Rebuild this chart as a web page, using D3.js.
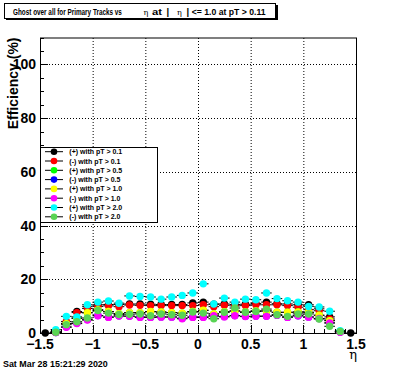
<!DOCTYPE html>
<html><head><meta charset="utf-8">
<script src="https://cdn.jsdelivr.net/npm/d3@7"></script>
<style>html,body{margin:0;padding:0;background:#fff;}svg{display:block;}</style>
</head><body>
<script>
// ---------------- data ----------------
const etaBins = [-1.45,-1.35,-1.25,-1.15,-1.05,-0.95,-0.85,-0.75,-0.65,-0.55,-0.45,-0.35,-0.25,-0.15,-0.05,
                 0.05,0.15,0.25,0.35,0.45,0.55,0.65,0.75,0.85,0.95,1.05,1.15,1.25,1.35,1.45];
const binHalfWidth = 0.05;
const seriesNames = ["(+) with pT > 0.1","(-) with pT > 0.1","(+) with pT > 0.5","(-) with pT > 0.5",
                     "(+) with pT > 1.0","(-) with pT > 1.0","(+) with pT > 2.0","(-) with pT > 2.0"];
const seriesColors = ["#000000","#ff0000","#00ff00","#0000ff","#ffff00","#ff00ff","#00ffff","#59d454"];
const posPt01 = [0,0.3,3.6,8.0,9.8,10.5,10.6,10.6,10.8,10.8,10.7,10.6,10.6,10.6,11.2,11.5,10.7,10.8,10.6,10.7,11.0,11.5,10.9,10.8,10.5,10.5,9.0,6.0,0.5,0];
const negPt01 = [null,0.3,4.3,7.6,9.1,9.9,10.1,9.8,10.4,10.3,10.2,10.2,10.2,10.2,10.2,10.5,9.8,10.3,10.1,10.2,10.5,10.5,10.5,10.2,9.6,8.7,8.3,5.2,0.5,null];
const posPt05 = [null,0.3,3.5,5.5,7.5,8.6,8.0,7.2,7.6,7.6,7.9,7.8,7.6,7.4,8.0,8.4,7.1,7.9,8.2,7.8,8.2,8.2,7.7,7.7,7.8,7.7,6.6,4.6,0.5,null];
const negPt05 = [null,0.2,2.3,3.7,5.0,6.5,6.0,6.4,6.3,6.0,5.9,6.0,6.0,5.5,6.0,6.0,6.3,6.1,6.5,6.2,6.3,6.3,6.6,5.9,6.4,6.0,5.4,3.8,0.4,null];
const posPt10 = [null,0.3,3.5,5.5,7.6,8.6,8.0,7.2,7.6,7.6,8.0,7.8,7.6,7.4,8.0,8.5,7.1,7.9,8.2,7.8,8.2,8.2,7.7,7.7,7.8,7.7,6.6,4.6,0.5,null];
const negPt10 = [null,0.2,2.1,3.5,4.8,6.4,5.8,6.3,6.2,5.8,5.8,5.9,5.9,5.3,5.8,5.8,6.4,6.0,6.4,6.1,6.2,6.2,6.6,5.8,6.4,5.9,5.4,3.7,0.3,null];
const posPt20 = [null,1.2,6.2,6.0,10.5,11.5,11.9,11.1,13.8,13.6,13.4,12.6,13.4,14.0,14.9,18.3,10.8,13.0,11.5,12.6,12.4,14.9,12.8,12.0,11.5,9.9,9.7,8.1,0.9,null];
const negPt20 = [null,0.3,3.1,4.2,5.6,8.4,7.4,6.9,7.0,7.1,6.4,7.1,6.8,6.6,7.8,7.4,5.3,7.7,9.3,7.7,8.0,8.9,6.8,6.2,7.1,7.1,5.2,2.5,0.6,null];
const seriesValues = [posPt01,negPt01,posPt05,negPt05,posPt10,negPt10,posPt20,negPt20];
const xTickLabels = ["\u22121.5","\u22121","\u22120.5","0","0.5","1","1.5"];
const xTickValues = [-1.5,-1,-0.5,0,0.5,1,1.5];
const yTickLabels = ["0","20","40","60","80","100"];
const yTickValues = [0,20,40,60,80,100];

// ---------------- drawing ----------------
const W = 396, H = 372;
const FONT = "'Liberation Sans', Arial, Helvetica, sans-serif";
const svg = d3.select("body").append("svg").attr("width", W).attr("height", H);
svg.append("rect").attr("width", W).attr("height", H).attr("fill", "#fff");

const x = d3.scaleLinear().domain([-1.5, 1.5]).range([40, 356]);
const y = d3.scaleLinear().domain([0, 110]).range([333, 37.5]);

// grid
const g = svg.append("g");
g.selectAll(".gx").data(xTickValues.filter(v => v > -1.5 && v < 1.5)).join("line")
  .attr("x1", d => x(d) + 0.5).attr("x2", d => x(d) + 0.5)
  .attr("y1", y(0)).attr("y2", y(110))
  .attr("stroke", "#000").attr("stroke-width", 1).attr("stroke-dasharray", "1,2");
g.selectAll(".gy").data(yTickValues.filter(v => v > 0)).join("line")
  .attr("x1", x(-1.5)).attr("x2", x(1.5))
  .attr("y1", d => Math.round(y(d)) + 0.5).attr("y2", d => Math.round(y(d)) + 0.5)
  .attr("stroke", "#000").attr("stroke-width", 1).attr("stroke-dasharray", "1,2");

// frame
svg.append("rect").attr("x", x(-1.5) + 0.5).attr("y", y(110) + 0.5)
  .attr("width", x(1.5) - x(-1.5)).attr("height", y(0) - y(110))
  .attr("fill", "none").attr("stroke", "#000").attr("stroke-width", 1);

// x axis ticks
const xMinor = d3.range(-15, 16).map(i => i / 10);
svg.append("g").selectAll("line").data(xMinor).join("line")
  .attr("x1", d => Math.round(x(d)) + 0.5).attr("x2", d => Math.round(x(d)) + 0.5)
  .attr("y1", y(0)).attr("y2", d => y(0) - (Math.abs(d * 2 - Math.round(d * 2)) < 1e-6 ? 8 : 4))
  .attr("stroke", "#000");
svg.append("g").selectAll("text").data(xTickValues).join("text")
  .attr("x", d => x(d)).attr("y", 348.5).attr("text-anchor", "middle")
  .attr("font-family", FONT).attr("font-weight", "bold").attr("font-size", 14)
  .text((d, i) => xTickLabels[i]);

// y axis ticks
const yMinor = d3.range(0, 23).map(i => i * 5);
svg.append("g").selectAll("line").data(yMinor).join("line")
  .attr("y1", d => Math.round(y(d)) + 0.5).attr("y2", d => Math.round(y(d)) + 0.5)
  .attr("x1", x(-1.5)).attr("x2", d => x(-1.5) + (d % 20 === 0 ? 8 : 4))
  .attr("stroke", "#000");
svg.append("g").selectAll("text").data(yTickValues).join("text")
  .attr("x", 36).attr("y", d => y(d) + 5).attr("text-anchor", "end")
  .attr("font-family", FONT).attr("font-weight", "bold").attr("font-size", 14)
  .text((d, i) => yTickLabels[i]);

// axis titles
svg.append("text").attr("transform", "translate(17.7,37.5) rotate(-90)")
  .attr("text-anchor", "end").attr("font-family", FONT).attr("font-weight", "bold")
  .attr("font-size", 14).text("Efficiency (%)");
svg.append("text").attr("x", 357).attr("y", 359).attr("text-anchor", "end")
  .attr("font-family", "'DejaVu Serif', serif").attr("font-size", 13).text("\u03b7");

// series
seriesValues.forEach((vals, si) => {
  const pts = etaBins.map((e, i) => ({e, v: vals[i]})).filter(p => p.v !== null);
  const sg = svg.append("g");
  pts.forEach(p => {
    sg.append("line").attr("x1", x(p.e - binHalfWidth)).attr("x2", x(p.e + binHalfWidth))
      .attr("y1", y(p.v)).attr("y2", y(p.v)).attr("stroke", "#000").attr("stroke-width", 1);
    sg.append("circle").attr("cx", x(p.e)).attr("cy", y(p.v)).attr("r", 3.7)
      .attr("fill", seriesColors[si]);
  });
});

// legend
const lg = svg.append("g");
lg.append("rect").attr("x", 40.5).attr("y", 147.5).attr("width", 117).attr("height", 75)
  .attr("fill", "#fff").attr("stroke", "#000");
seriesNames.forEach((name, i) => {
  const ry = 151.7 + i * 9.3;
  lg.append("line").attr("x1", 45).attr("x2", 63).attr("y1", ry).attr("y2", ry).attr("stroke", "#000");
  lg.append("circle").attr("cx", 54).attr("cy", ry).attr("r", 3.3).attr("fill", seriesColors[i]);
  lg.append("text").attr("x", 69.3).attr("y", ry + 2.5).attr("font-family", FONT)
    .attr("font-weight", "bold").attr("font-size", 7).text(name);
});

// title
const tg = svg.append("g");
tg.append("rect").attr("x", 6).attr("y", 5).attr("width", 272).attr("height", 15).attr("fill", "#000");
tg.append("rect").attr("x", 4.5).attr("y", 3.5).attr("width", 271).attr("height", 15)
  .attr("fill", "#fff").attr("stroke", "#000");
const tparts = [
  {t: "Ghost over all for Primary Tracks vs", x: 13, len: 109, bold: true},
  {t: "\u03b7", x: 143.5, len: null, bold: false},
  {t: "at", x: 152, len: 10, bold: true},
  {t: "|", x: 166.5, len: null, bold: true},
  {t: "\u03b7", x: 177, len: null, bold: false},
  {t: "|", x: 186.5, len: null, bold: true},
  {t: "<= 1.0 at pT > 0.11", x: 191.7, len: 74, bold: true}
];
tparts.forEach(p => {
  const grp = tg.append("g").attr("transform", `translate(${p.x},15)`);
  const t = grp.append("text").attr("x", 0).attr("y", 0).attr("font-size", p.bold ? 9.5 : 8)
    .attr("font-family", p.bold ? FONT : "'DejaVu Serif', serif")
    .attr("font-weight", p.bold ? "bold" : "normal").text(p.t);
  if (p.len) {
    const nat = t.node().getComputedTextLength();
    grp.attr("transform", `translate(${p.x},15) scale(${p.len / nat},1)`);
  }
});

// date
const dg = svg.append("g").attr("transform", "translate(3,367)");
const dt = dg.append("text").attr("font-family", FONT).attr("font-weight", "bold")
  .attr("font-size", 8.5).text("Sat Mar 28 15:21:29 2020");
dg.attr("transform", `translate(3,367) scale(${105 / dt.node().getComputedTextLength()},1)`);
</script>
</body></html>
